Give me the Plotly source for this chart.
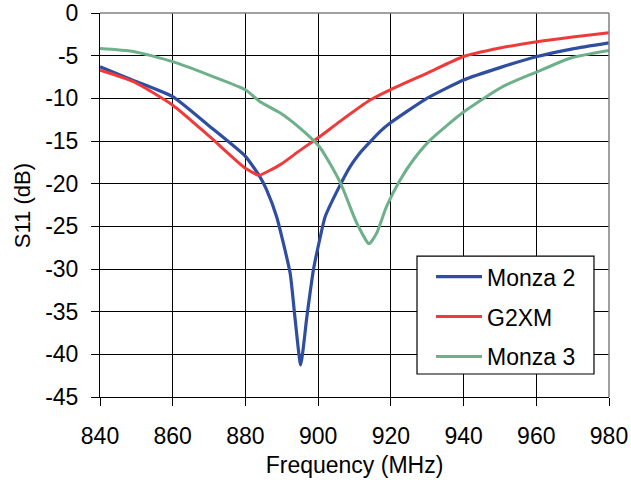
import plotly.graph_objects as go

# Monza 2
m2_freq = [840, 849.2, 860, 870.2, 880, 884, 885.8, 888.6, 892.3, 893.6, 895.2, 896.9, 898.7, 900.4, 901.9, 906, 908.8, 911.5, 914.3, 917, 919.8, 929.9, 940, 950, 960.2, 970, 980]
m2_s11 = [-6.3, -7.9, -9.8, -13.3, -16.8, -19.2, -20.7, -23.9, -30.5, -35.6, -41.25, -35.6, -30.1, -26.6, -23.9, -20.2, -18.0, -16.4, -15.1, -13.9, -12.9, -10.0, -7.85, -6.4, -5.1, -4.2, -3.5]

# G2XM
g2_freq = [840, 849.2, 860, 870.2, 880, 883.5, 884, 889.5, 895, 900.4, 906, 914.3, 919.8, 929.9, 940, 950, 960.2, 970, 980]
g2_s11 = [-6.7, -8.05, -10.8, -14.5, -18.2, -19.0, -19.0, -17.8, -16.1, -14.5, -12.7, -10.2, -9.0, -7.07, -5.1, -4.1, -3.36, -2.8, -2.3]

# Monza 3
m3_freq = [840, 849.2, 860, 870.2, 880, 884, 889.5, 895, 900.4, 906, 910.6, 913.8, 914.2, 916.1, 918.8, 922.5, 926.2, 930.8, 940, 950.9, 960.2, 969.3, 980]
m3_s11 = [-4.15, -4.5, -5.7, -7.3, -9.0, -10.4, -11.7, -13.5, -15.7, -19.8, -24.6, -27.0, -27.0, -25.8, -22.7, -19.6, -17.2, -14.9, -11.6, -8.6, -6.9, -5.3, -4.4]

x_ticks = [840, 860, 880, 900, 920, 940, 960, 980]
x_tick_labels = ["840", "860", "880", "900", "920", "940", "960", "980"]
y_ticks = [0, -5, -10, -15, -20, -25, -30, -35, -40, -45]
y_tick_labels = ["0", "-5", "-10", "-15", "-20", "-25", "-30", "-35", "-40", "-45"]

font_family = "Liberation Sans, Arial, sans-serif"

fig = go.Figure()
fig.add_trace(go.Scatter(x=m2_freq, y=m2_s11, mode="lines", name="Monza 2",
                         line=dict(color="#2F4EA2", width=3.2, shape="spline", smoothing=0.5),
                         legendgroup="a"))
fig.add_trace(go.Scatter(x=g2_freq, y=g2_s11, mode="lines", name="G2XM",
                         line=dict(color="#F03A3A", width=3, shape="spline", smoothing=0.6),
                         legendgroup="b"))
fig.add_trace(go.Scatter(x=m3_freq, y=m3_s11, mode="lines", name="Monza 3",
                         line=dict(color="#6DB08A", width=3, shape="spline", smoothing=0.6),
                         legendgroup="c"))

fig.update_layout(
    width=631, height=480,
    margin=dict(l=100, r=22, t=13, b=83),
    paper_bgcolor="white", plot_bgcolor="white",
    font=dict(family=font_family, size=23, color="black"),
    showlegend=True,
    legend=dict(x=0.6503, y=0.049, xanchor="left", yanchor="bottom",
                bgcolor="rgba(0,0,0,0)", borderwidth=0,
                font=dict(size=23), tracegroupgap=7, itemwidth=46),
    xaxis=dict(range=[840, 980], tickvals=x_ticks, ticktext=x_tick_labels,
               ticks="outside", ticklen=8, automargin=False, ticklabelstandoff=10,
               ticklabeloverflow="allow",
               tickcolor="black", showline=True, linecolor="black", linewidth=1,
               showgrid=True, gridcolor="black", gridwidth=1, zeroline=False,
               title=dict(text="Frequency (MHz)", standoff=9, font=dict(size=23))),
    yaxis=dict(range=[-45, 0], tickvals=y_ticks, ticktext=y_tick_labels,
               ticks="outside", ticklen=8, automargin=False, ticklabelstandoff=8,
               ticklabeloverflow="allow",
               tickcolor="black", showline=True, linecolor="black", linewidth=1,
               showgrid=True, gridcolor="black", gridwidth=1, zeroline=False),
    annotations=[dict(text="S11 (dB)", textangle=-90, xref="paper", yref="paper",
                      x=-0.1532, y=0.497, xanchor="center", yanchor="middle",
                      showarrow=False, font=dict(size=22))],
)
fig.add_shape(type="line", xref="paper", yref="paper", x0=0, x1=1, y0=1, y1=1,
              line=dict(color="#808080", width=1.5))
fig.add_shape(type="line", xref="paper", yref="paper", x0=1, x1=1, y0=0, y1=1,
              line=dict(color="#808080", width=1.5))
# legend box
fig.add_shape(type="rect", xref="paper", yref="paper", layer="above",
              x0=0.6228, x1=0.9705, y0=0.0599, y1=0.367,
              fillcolor="white", line=dict(color="black", width=1.2))

fig.write_html("out.html", config={"displayModeBar": False},
               post_script="document.body.style.margin='0';")
